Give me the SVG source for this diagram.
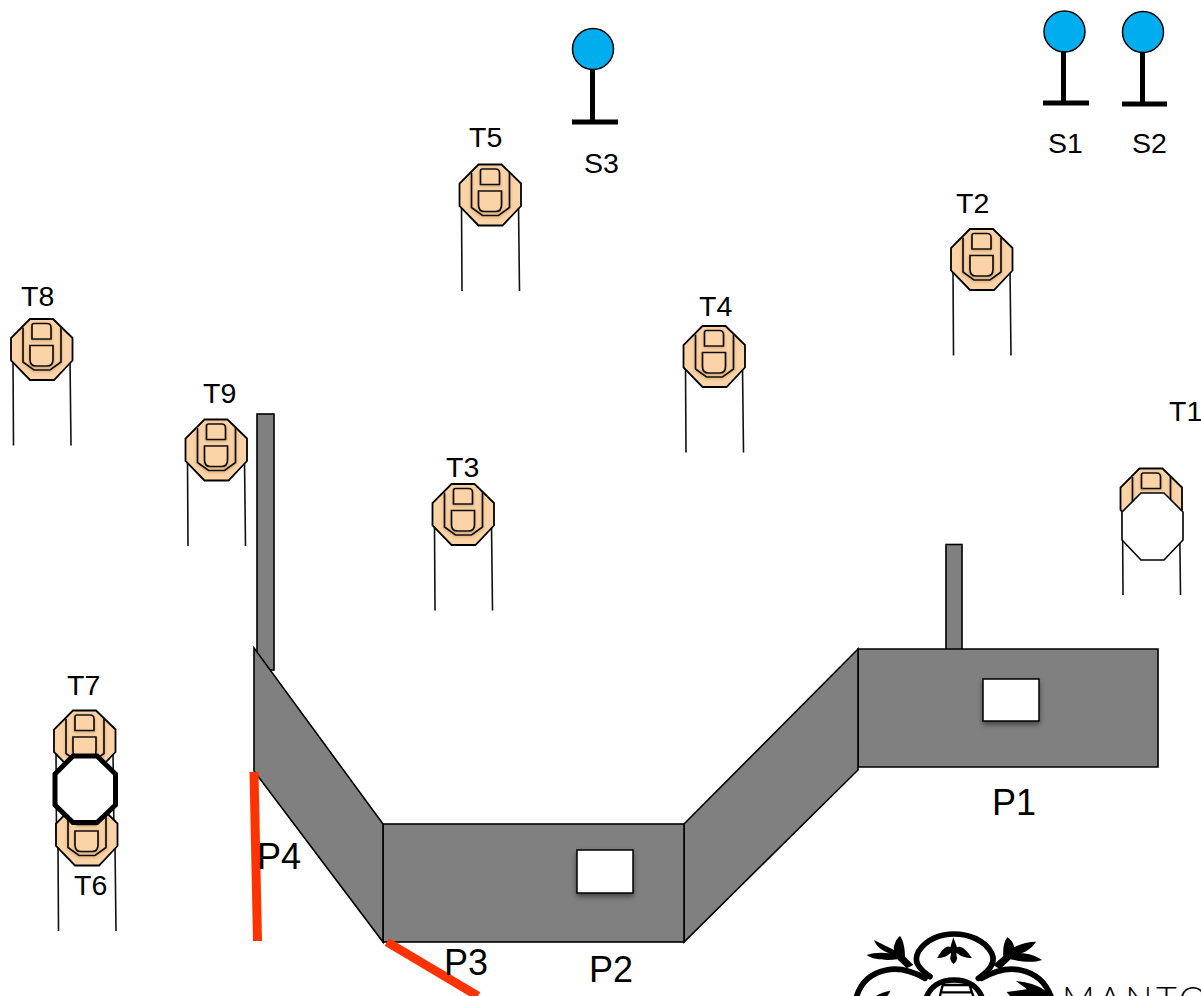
<svg xmlns="http://www.w3.org/2000/svg" width="1201" height="996" viewBox="0 0 1201 996">
<style>
.l{font-family:"Liberation Sans",Arial,sans-serif;fill:#000}
.t{font-size:28.500px}.p{font-size:36px}.s{font-size:28.500px}
.panel{fill:#808080;stroke:#000;stroke-width:1.6;stroke-linejoin:miter}
.win{fill:#fff;stroke:#000;stroke-width:1.5;filter:url(#sh)}
.red{stroke:#ff3300;stroke-width:9;fill:none}
.leg{stroke:#111;stroke-width:1.6;fill:none}
.oct{fill:#fcd3a6;stroke:#000;stroke-width:1.8}
.in{fill:none;stroke:#111;stroke-width:1.7;filter:url(#sh2)}
.bd{fill:#fcd3a6;stroke:#111;stroke-width:1.7;filter:url(#sh2)}
.w{fill:#fff;stroke:#000;stroke-width:1.6}
.stem{stroke:#000;stroke-width:5;fill:none}
.ball{fill:#00aeef;stroke:#000;stroke-width:1.5}
.lg{fill:none;stroke:#000;stroke-width:17;stroke-linecap:round}
.lg2{fill:none;stroke:#000;stroke-width:7}
</style>
<defs>
<filter id="sh" x="-20%" y="-20%" width="140%" height="150%"><feDropShadow dx="0" dy="3" stdDeviation="2.5" flood-color="#000" flood-opacity=".45"/></filter>
<filter id="sh2" x="-20%" y="-20%" width="140%" height="140%"><feDropShadow dx="0" dy="1" stdDeviation="1.5" flood-color="#5a3a1a" flood-opacity=".35"/></filter>
<g id="robot">
<path class="leg" d="M-29 10L-28.500 96M28 10L29 96"/>
<path class="oct" d="M-12 -30.500H11L30.500 -11.500V11L12 30.500H-12L-31 11V-11.500Z"/>
<path class="in" d="M-19 -22V12.500L-8 20.500H8L19 12.500V-22"/>
<path class="bd" d="M-8 -26H5Q9 -26 9 -22V-10.500H-10V-24Q-10 -26 -8 -26Z"/>
<path class="bd" d="M-12 -4H11V10Q11 16.500 5 16.500H-6Q-12 16.500 -12 10Z"/>
</g>
</defs>
<rect width="1201" height="996" fill="#fff"/>

<g id="connectors"></g>

<g id="S3"><circle class="ball" cx="593" cy="49" r="20.500"/><path class="stem" d="M592.500 69.500V122M572 122H618"/><text class="l s" x="584" y="172.500">S3</text></g>
<g id="S1"><circle class="ball" cx="1064.500" cy="31.500" r="20.500"/><path class="stem" d="M1063.500 51.500V103M1043 103H1089"/><text class="l s" x="1048" y="153">S1</text></g>
<g id="S2"><circle class="ball" cx="1143" cy="32" r="20.500"/><path class="stem" d="M1142.500 52V104M1122 104H1167"/><text class="l s" x="1132" y="153">S2</text></g>

<g id="P1"><rect class="panel" x="946" y="544.500" width="16" height="106"/><path class="panel" d="M858 649H1158V767H858Z"/><rect class="win" x="983" y="679" width="56" height="42"/><text class="l p" x="992" y="815">P1</text></g>
<g id="P2"><path class="panel" d="M858 649L684 824V942L858 770Z"/><rect class="panel" x="383" y="824" width="301" height="118"/><rect class="win" x="577" y="850" width="56" height="43"/><text class="l p" x="589" y="982">P2</text></g>
<g id="P4"><rect class="panel" x="257" y="414" width="17" height="256"/><path class="panel" d="M254 648L383 824V942L254 771Z"/><path class="red" d="M254 772L257.500 941"/><text class="l p" x="257" y="869">P4</text></g>
<g id="P3"><path class="red" d="M387 942L478 996"/><text class="l p" x="444" y="975">P3</text></g>

<g id="T5"><use href="#robot" x="490.500" y="195"/><text class="l t" x="469" y="147">T5</text></g>
<g id="T2"><use href="#robot" x="982" y="259.500"/><text class="l t" x="956" y="212.500">T2</text></g>
<g id="T4"><use href="#robot" x="714.500" y="356.500"/><text class="l t" x="699" y="315.500">T4</text></g>
<g id="T8"><use href="#robot" x="42" y="349.500"/><text class="l t" x="21" y="305.500">T8</text></g>
<g id="T9"><use href="#robot" x="216.500" y="450"/><text class="l t" x="203" y="403">T9</text></g>
<g id="T3"><use href="#robot" x="463.500" y="514.500"/><text class="l t" x="446" y="477">T3</text></g>
<g id="T1"><use href="#robot" x="1151.500" y="499"/><path class="w" d="M1141 493H1164L1183 512V540L1164 560H1141L1122 540V512Z"/><text class="l t" x="1169" y="420.500">T1</text></g>
<g id="T7"><use href="#robot" x="85" y="741"/><text class="l t" x="67" y="695">T7</text></g>
<g id="T6"><use href="#robot" x="87" y="835"/><text class="l t" x="74" y="894.500">T6</text></g>
<path id="obstacle" d="M73 756H97L115.500 774V805L97 822.500H73L55 805V774Z" fill="#fff" stroke="#000" stroke-width="5"/>

<g id="logo">
<g transform="translate(850 930) scale(.3333)">
<path class="lg" d="M240 140C205 115 190 95 205 65C230 25 275 12 312 12C355 12 405 30 425 70C440 100 415 125 385 145"/>
<path class="lg" d="M225 145C190 125 150 112 110 120C60 130 30 160 18 205"/>
<path class="lg" d="M395 145C430 125 470 112 510 120C560 130 590 160 605 205"/>
<path class="lg" d="M228 205C240 170 270 150 312 150C355 150 385 170 397 205"/>
<path class="lg2" d="M278 165H358M272 187H368M280 158L268 205M356 158L372 205"/>
<path fill="#000" d="M310 22L301 52C293 44 275 58 262 84C278 84 293 78 302 68L303 75C298 85 302 95 311 102C320 95 324 85 319 75L320 68C330 78 348 84 366 84C350 60 332 44 321 52Z"/>
<path fill="#000" d="M190 105L165 80C165 55 160 30 150 18C138 28 130 45 132 60L72 30C78 48 95 62 118 70C95 66 70 68 50 75C70 90 110 92 142 88L170 115Z"/>
<path fill="#000" d="M430 105L460 78C458 55 462 35 472 22C485 30 492 42 492 52C510 42 535 35 558 35C548 52 530 65 512 70C535 70 558 78 576 90C550 100 510 95 482 88L450 118Z"/>
<path fill="#000" d="M470 186L530 178C520 168 505 160 498 154C530 155 585 170 600 198H480Z"/>
<path fill="#000" d="M78 198C90 190 105 184 122 182L112 198Z"/>
</g>
<text x="1062" y="1012" font-family="Lato,'Liberation Sans',sans-serif" font-weight="300" font-size="36" letter-spacing="3.500" fill="#000">MANTO</text>
</g>
</svg>
